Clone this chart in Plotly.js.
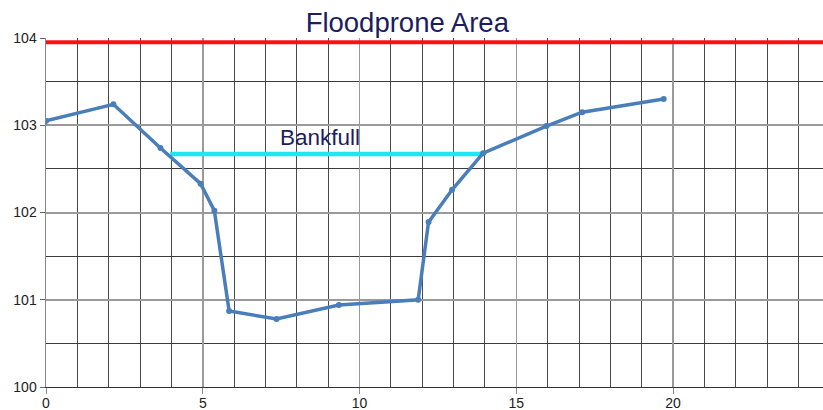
<!DOCTYPE html>
<html>
<head>
<meta charset="utf-8">
<script src="https://cdn.plot.ly/plotly-3.0.1.min.js"></script>
<style>html,body{margin:0;padding:0;background:#fff;}#chart{width:823px;height:410px;}</style>
</head>
<body>
<div id="chart"></div>
<script>
// Cross-section profile (station, elevation)
const station = [0, 2.15, 3.65, 4.93, 5.37, 5.84, 7.35, 9.34, 11.87, 12.20, 12.95, 13.94, 15.96, 17.10, 19.70];
const elevation = [103.05, 103.24, 102.74, 102.33, 102.02, 100.87, 100.78, 100.94, 101.00, 101.89, 102.26, 102.68, 102.99, 103.15, 103.30];
// Bankfull level line
const bankfullX = [3.96, 13.93];
const bankfullY = [102.67, 102.67];
// Floodprone area level line
const floodX = [0, 24.78];
const floodY = [103.95, 103.95];
const titleText = "Floodprone Area";
const bankfullLabel = "Bankfull";
const xTicks = [0, 5, 10, 15, 20];
const yTicks = [100, 101, 102, 103, 104];

const traces = [
  {x: floodX, y: floodY, mode: 'lines', line: {color: '#ff1010', width: 4}, hoverinfo: 'skip'},
  {x: bankfullX, y: bankfullY, mode: 'lines', line: {color: '#1ee8ee', width: 4.5}, hoverinfo: 'skip'},
  {x: station, y: elevation, mode: 'lines+markers', line: {color: '#4a7ebb', width: 3.5},
   marker: {color: '#4a7ebb', size: 6}}
];

const layout = {
  width: 823, height: 410,
  margin: {l: 46, r: 0, t: 38, b: 23, pad: 0},
  paper_bgcolor: '#ffffff', plot_bgcolor: '#ffffff',
  showlegend: false,
  font: {family: 'Liberation Sans, Arial, sans-serif', color: '#222', size: 14},
  title: {text: titleText, x: 0.465, xref: 'paper', xanchor: 'center', y: 0.945, yref: 'container', yanchor: 'middle',
          font: {size: 27.5, color: '#1c1c5e', family: 'Liberation Sans, Arial, sans-serif'}},
  xaxis: {
    range: [0, 24.78], tickvals: xTicks, ticktext: xTicks.map(String),
    showgrid: true, gridcolor: '#9a9a9a', gridwidth: 1.5,
    minor: {dtick: 1, tick0: 0, showgrid: true, gridcolor: '#4a4a4a', gridwidth: 1, ticks: ''},
    ticks: 'outside', ticklen: 6, tickcolor: '#888', tickwidth: 1,
    ticklabelstandoff: -3,
    zeroline: false, showline: true, linecolor: '#333', linewidth: 1,
    tickfont: {size: 14, color: '#222'}, fixedrange: true
  },
  yaxis: {
    range: [100, 104], tickvals: yTicks, ticktext: yTicks.map(String),
    showgrid: true, gridcolor: '#9a9a9a', gridwidth: 2,
    minor: {dtick: 0.5, tick0: 100, showgrid: true, gridcolor: '#3a3a3a', gridwidth: 1, ticks: ''},
    ticks: 'outside', ticklen: 5, tickcolor: '#666', tickwidth: 1,
    zeroline: false, showline: true, linecolor: '#888', linewidth: 1.5,
    tickfont: {size: 14, color: '#222'}, fixedrange: true
  },
  annotations: [{
    x: 8.74, y: 102.86, xref: 'x', yref: 'y', text: bankfullLabel, showarrow: false,
    font: {size: 22.5, color: '#1c1c5e', family: 'Liberation Sans, Arial, sans-serif'}, xanchor: 'center', yanchor: 'middle'
  }]
};

Plotly.newPlot('chart', traces, layout, {displayModeBar: false, staticPlot: true});
</script>
</body>
</html>
